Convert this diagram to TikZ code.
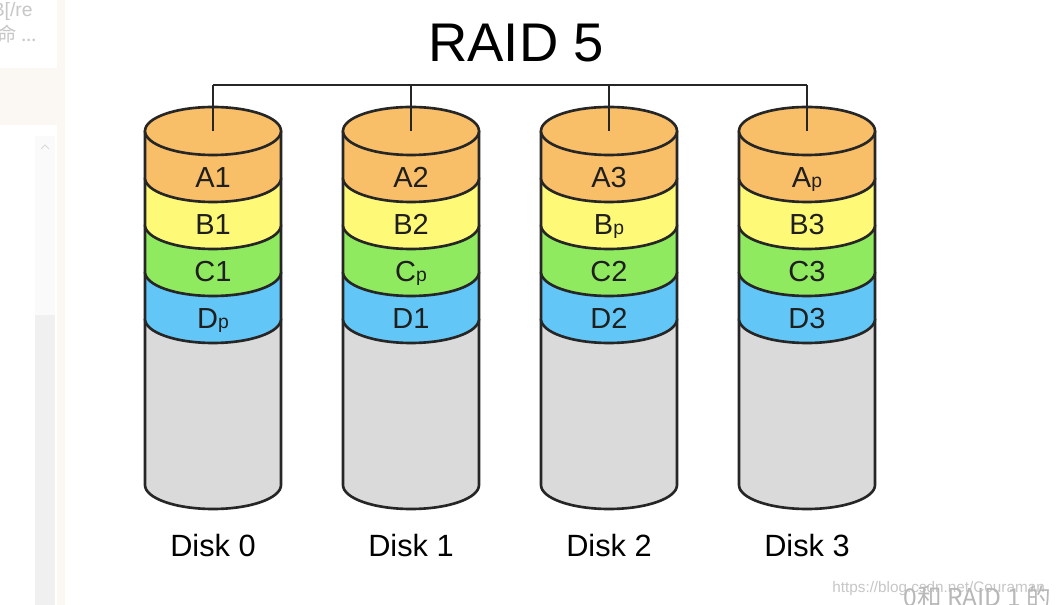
\documentclass[tikz,border=0pt]{standalone}
\usepackage{fontspec}
\setmainfont{Liberation Sans}
\newfontfamily\cjkfont{Noto Sans CJK SC}
\usetikzlibrary{positioning}

\definecolor{bandA}{HTML}{F9BE68}
\definecolor{bandB}{HTML}{FEFA78}
\definecolor{bandC}{HTML}{90EA60}
\definecolor{bandD}{HTML}{62C7F6}
\definecolor{bandE}{HTML}{DADADA}
\definecolor{rim}{HTML}{262626}
\definecolor{cream}{HTML}{FBF8F3}
\definecolor{scrolltop}{HTML}{FAFAFA}
\definecolor{scrollbot}{HTML}{F0F0F0}

% parity block label
\newcommand{\pty}[1]{#1{\fontsize{11}{11}\selectfont p}}

\begin{document}
\begin{tikzpicture}[
    x=0.02cm, y=0.02cm,
    rimline/.style={draw=rim, line width=1.5pt},
    busline/.style={draw=rim, line width=0.9pt},
    cell/.style={font=\fontsize{16.5}{16.5}\selectfont, text=black!88, anchor=base, inner sep=0pt},
    disklabel/.style={font=\fontsize{17.5}{17.5}\selectfont, anchor=base, inner sep=0pt},
    title/.style={font=\fontsize{31}{31}\selectfont, anchor=base, inner sep=0pt},
    faint/.style={inner sep=0pt, text=black!22}
]
    \useasboundingbox (0,0) rectangle (1058,605);

    % Page background
    \fill[white] (0,0) rectangle (1058,605);
    \fill[cream] (57,0) rectangle (65,605);
    \fill[cream] (0,480) rectangle (57,537);
    \fill[scrolltop] (35,290) rectangle (55,469);
    \fill[scrollbot] (35,0) rectangle (55,290);
    \draw[black!15, line width=0.5pt] (41,456) -- (45,460) -- (49,456);
    \node[faint, anchor=base east, font=\fontsize{11}{11}\selectfont] (crumb) at (33,588) {B[/re};
    \node[faint, anchor=base west, font=\cjkfont\fontsize{11}{11}\selectfont] (crumbtwo) at (-3,563) {命 ...};

    % Title
    \node[title] (title) at (516,543) {RAID 5};

    % Disks
    \foreach \i/\la/\lb/\lc/\ld in {0/A1/B1/C1/\pty{D}, 1/A2/B2/\pty{C}/D1, 2/A3/\pty{B}/C2/D2, 3/\pty{A}/B3/C3/D3} {
        \pgfmathsetmacro{\cx}{213+198*\i}
        % body and bands, bottom to top
        \path[rimline, fill=bandE] (\cx-68,286) -- (\cx-68,120) arc[start angle=180, end angle=360, x radius=68, y radius=24] -- (\cx+68,286);
        \path[rimline, fill=bandD] (\cx-68,333) -- (\cx-68,286) arc[start angle=180, end angle=360, x radius=68, y radius=24] -- (\cx+68,333);
        \path[rimline, fill=bandC] (\cx-68,380) -- (\cx-68,333) arc[start angle=180, end angle=360, x radius=68, y radius=24] -- (\cx+68,380);
        \path[rimline, fill=bandB] (\cx-68,427) -- (\cx-68,380) arc[start angle=180, end angle=360, x radius=68, y radius=24] -- (\cx+68,427);
        \path[rimline, fill=bandA] (\cx-68,474) -- (\cx-68,427) arc[start angle=180, end angle=360, x radius=68, y radius=24] -- (\cx+68,474);
        \path[rimline, fill=bandA] (\cx,474) ellipse[x radius=68, y radius=24];

        % block labels
        \node[cell] (a\i) at (\cx,417) {\la};
        \node[cell] (b\i) at (\cx,370) {\lb};
        \node[cell] (c\i) at (\cx,323) {\lc};
        \node[cell] (d\i) at (\cx,276) {\ld};
        \node[disklabel] (disk\i) at (\cx,48) {Disk \i};

        % link to the bus
        \coordinate (top\i) at (\cx,474);
        \coordinate (bus\i) at (\cx,520);
        \draw[busline] (bus\i) -- (top\i);
    }
    \draw[busline] (bus0) -- (bus3);

    % Watermark
    \node[faint, anchor=base west, font=\fontsize{8.7}{8.7}\selectfont] (mark) at (832,12) {https://blog.csdn.net/Couraman};
    \node[inner sep=0pt, anchor=base west, text=black!28, font=\cjkfont\fontsize{14}{14}\selectfont] (marktwo) at (903,-2) {0和 RAID 1 的};
\end{tikzpicture}
\end{document}
